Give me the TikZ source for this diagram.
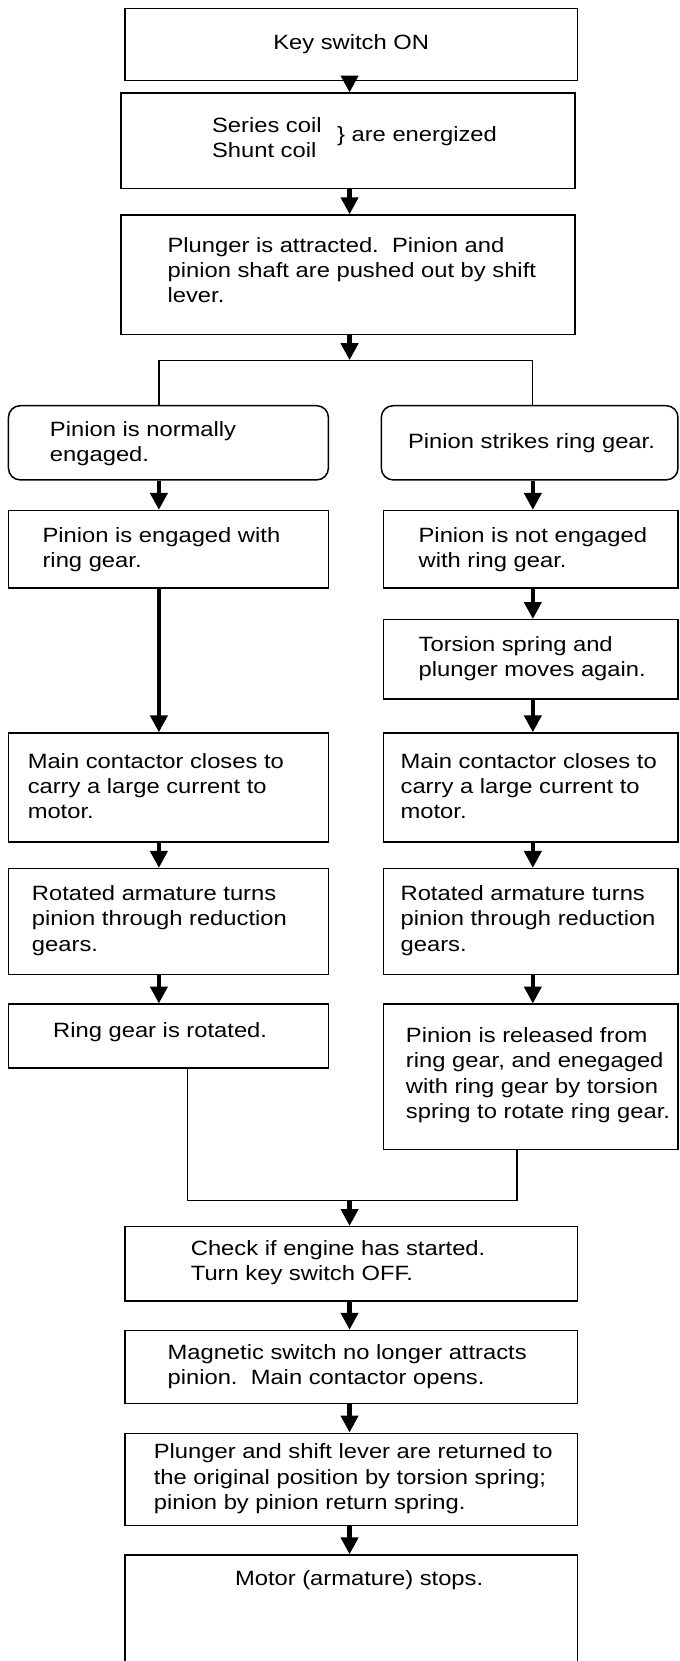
\documentclass[tikz,border=0pt]{standalone}
\usepackage{fontspec}
\setmainfont{Liberation Sans}[FakeStretch=1.15]
\usetikzlibrary{arrows.meta}
\begin{document}
\begin{tikzpicture}[x=1pt,y=-1pt,
  box/.style={draw, line width=1.4pt, inner sep=0pt},
  rbox/.style={box, rounded corners=11pt},
  txt/.style={anchor=west, align=left, inner sep=0pt, font=\fontsize{19.5}{23.8}\selectfont},
  ctxt/.style={txt, anchor=center},
  arr/.style={line width=4pt, -{Triangle[width=16pt,length=16pt]}, shorten >=0pt},
  conn/.style={line width=1.2pt}]
\useasboundingbox (0,0) rectangle (641,1568);
\clip (0,0) rectangle (641,1568);
\fill[white] (0,0) rectangle (641,1568);
% column coordinates
\coordinate (mc) at (330,0);
\coordinate (lc) at (150,0);
\coordinate (rc) at (503,0);
% main boxes
\node[box, minimum width=427pt, minimum height=68pt] (b1) at (331.5,42) {};
\node[ctxt] (t1) at (b1.center) {Key switch ON};
\node[box, minimum width=429pt, minimum height=90pt] (b2) at (328.5,133) {};
\node[txt] (t2a) at (200,130) {Series coil\\Shunt coil};
\node[txt] (t2b) at (318,129) {\} are energized};
\node[box, minimum width=429pt, minimum height=113pt] (b3) at (328.5,259.5) {};
\node[txt] (t3) at (158,255) {Plunger is attracted.\ \ Pinion and\\pinion shaft are pushed out by shift\\lever.};
% left column
\node[rbox, minimum width=302pt, minimum height=70pt] (L1) at (159,418) {};
\node[txt] (tL1) at (47,419) {Pinion is normally\\engaged.};
\node[box, minimum width=302pt, minimum height=73pt] (L2) at (159,518.5) {};
\node[txt] (tL2) at (40,519) {Pinion is engaged with\\ring gear.};
\node[box, minimum width=302pt, minimum height=103pt] (L4) at (159,743.5) {};
\node[txt] (tL4) at (26,742) {Main contactor closes to\\carry a large current to\\motor.};
\node[box, minimum width=302pt, minimum height=100pt] (L5) at (159,870) {};
\node[txt] (tL5) at (30,869) {Rotated armature turns\\pinion through reduction\\gears.};
\node[box, minimum width=302pt, minimum height=60pt] (L6) at (159,978) {};
\node[txt] (tL6) at (50,974) {Ring gear is rotated.};
% right column
\node[rbox, minimum width=280pt, minimum height=70pt] (R1) at (500,418) {};
\node[txt] (tR1) at (385,418) {Pinion strikes ring gear.};
\node[box, minimum width=278pt, minimum height=73pt] (R2) at (501,518.5) {};
\node[txt] (tR2) at (395,519) {Pinion is not engaged\\with ring gear.};
\node[box, minimum width=278pt, minimum height=75pt] (R3) at (501,622.5) {};
\node[txt] (tR3) at (395,622) {Torsion spring and\\plunger moves again.};
\node[box, minimum width=278pt, minimum height=103pt] (R4) at (501,743.5) {};
\node[txt] (tR4) at (378,742) {Main contactor closes to\\carry a large current to\\motor.};
\node[box, minimum width=278pt, minimum height=100pt] (R5) at (501,870) {};
\node[txt] (tR5) at (378,869) {Rotated armature turns\\pinion through reduction\\gears.};
\node[box, minimum width=278pt, minimum height=137pt] (R6) at (501,1016.5) {};
\node[txt] (tR6) at (383,1015) {Pinion is released from\\ring gear, and enegaged\\with ring gear by torsion\\spring to rotate ring gear.};
% lower main boxes
\node[box, minimum width=427pt, minimum height=70pt] (b7) at (331.5,1193) {};
\node[txt] (t7) at (180,1192) {Check if engine has started.\\ Turn key switch OFF.};
\node[box, minimum width=427pt, minimum height=69pt] (b8) at (331.5,1290.5) {};
\node[txt] (t8) at (158,1290) {Magnetic switch no longer attracts\\pinion.\ \ Main contactor opens.};
\node[box, minimum width=427pt, minimum height=87pt] (b9) at (331.5,1396.5) {};
\node[txt] (t9) at (145,1396) {Plunger and shift lever are returned to\\the original position by torsion spring;\\pinion by pinion return spring.};
\node[box, minimum width=427pt, minimum height=122pt] (b10) at (331.5,1529) {};
\node[ctxt] (t10) at (339,1492) {Motor (armature) stops.};
% split and merge coordinates
\coordinate (sp) at (330,340);
\coordinate (ml) at (177,0);
\coordinate (mr) at (488,0);
\coordinate (mg) at (330,1133);
% arrows main column
\draw[arr] (b1.south -| mc) -- (b2.north -| mc);
\draw[arr] (b2.south -| mc) -- (b3.north -| mc);
\draw[arr] (b3.south -| mc) -- (sp);
% split
\draw[conn] (L1.north -| lc) -- (lc |- sp) -- (rc |- sp) -- (R1.north -| rc);
% left column arrows
\draw[arr] (L1.south -| lc) -- (L2.north -| lc);
\draw[arr] (L2.south -| lc) -- (L4.north -| lc);
\draw[arr] (L4.south -| lc) -- (L5.north -| lc);
\draw[arr] (L5.south -| lc) -- (L6.north -| lc);
% right column arrows
\draw[arr] (R1.south -| rc) -- (R2.north -| rc);
\draw[arr] (R2.south -| rc) -- (R3.north -| rc);
\draw[arr] (R3.south -| rc) -- (R4.north -| rc);
\draw[arr] (R4.south -| rc) -- (R5.north -| rc);
\draw[arr] (R5.south -| rc) -- (R6.north -| rc);
% merge
\draw[conn] (L6.south -| ml) -- (ml |- mg) -- (mr |- mg) -- (R6.south -| mr);
\draw[arr] (mg) -- (b7.north -| mg);
\draw[arr] (b7.south -| mc) -- (b8.north -| mc);
\draw[arr] (b8.south -| mc) -- (b9.north -| mc);
\draw[arr] (b9.south -| mc) -- (b10.north -| mc);
\end{tikzpicture}
\end{document}
